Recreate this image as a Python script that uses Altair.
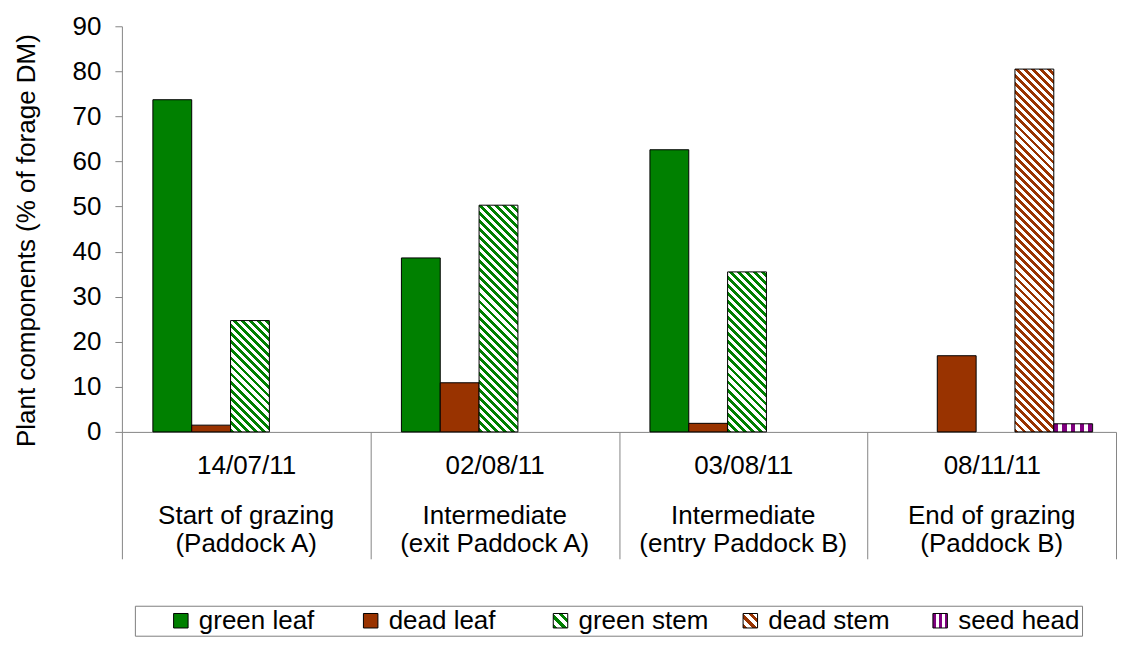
import math
import json
import altair as alt
import pandas as pd

# ---- data ----
dates = ["14/07/11", "02/08/11", "03/08/11", "08/11/11"]
stage = ["Start of grazing", "Intermediate", "Intermediate", "End of grazing"]
paddock = ["(Paddock A)", "(exit Paddock A)", "(entry Paddock B)", "(Paddock B)"]
series = ["green leaf", "dead leaf", "green stem", "dead stem", "seed head"]
green_leaf = [73.7, 38.6, 62.6, 0.0]
dead_leaf = [1.5, 10.9, 1.9, 16.9]
green_stem = [24.7, 50.3, 35.5, 0.0]
dead_stem = [0.0, 0.0, 0.0, 80.5]
seed_head = [0.0, 0.0, 0.0, 1.8]
values = [green_leaf, dead_leaf, green_stem, dead_stem, seed_head]

groups = [f"{d}|{s}|{p}" for d, s, p in zip(dates, stage, paddock)]

GREEN, BROWN, PURPLE = "#008000", "#993300", "#800080"

# ---- layout / style ----
W, H = 995, 406
YMAX = 90
PAD_OUT = 0.7
BAR_W = W / len(groups) / (len(series) + 2 * PAD_OUT)
PERIOD = 5.7  # hatch spacing in px
FONT = "Liberation Sans"


def stripes(color, n, frac, x1, y1, x2, y2):
    stops = []
    k = 0
    while k < n:
        a = k / n
        b = min((k + frac) / n, 1.0)
        c = min((k + 1) / n, 1.0)
        stops += [{"offset": round(a, 5), "color": color}, {"offset": round(b, 5), "color": color},
                  {"offset": round(b, 5), "color": "#ffffff"}, {"offset": round(c, 5), "color": "#ffffff"}]
        k += 1
    return {"gradient": "linear", "x1": x1, "y1": y1, "x2": x2, "y2": y2,
            "stops": stops}


def diag_hatch(color, h, w):
    r = h / w
    s = (1 + r) / (1 + r * r)
    n = (w + h) / math.sqrt(2) / PERIOD
    return stripes(color, n, 0.48, 0, 1, s, 1 - s * r)


def paint(name, v):
    h = v * H / YMAX
    if name == "green leaf":
        return GREEN
    if name == "dead leaf":
        return BROWN
    if name == "green stem":
        return diag_hatch(GREEN, h, BAR_W)
    if name == "dead stem":
        return diag_hatch(BROWN, h, BAR_W)
    return stripes(PURPLE, BAR_W / 8.6, 0.5, 0, 0, 1, 0)


rows = []
for j, s in enumerate(series):
    for i, g in enumerate(groups):
        rows.append({"group": g, "series": s, "value": values[j][i],
                     "paint": paint(s, values[j][i])})
df = pd.DataFrame(rows)

sym = {
    "green leaf": GREEN,
    "dead leaf": BROWN,
    "green stem": stripes(GREEN, 3, 0.45, 0, 1, 1, 0),
    "dead stem": stripes(BROWN, 3, 0.45, 0, 1, 1, 0),
    "seed head": stripes(PURPLE, 2.5, 0.5, 0, 0, 1, 0),
}
expr = "'#008000'"
for k, v in reversed(list(sym.items())):
    expr = f"datum.value === '{k}' ? {json.dumps(v)} : ({expr})"

legend = alt.Legend(
    title=" ", titleOrient="left", titlePadding=31, titleFontSize=1,
    orient="none", legendX=13, legendY=580, direction="horizontal", columns=5,
    gridAlign="all", strokeColor="#7f7f7f", padding=2, symbolType="square",
    symbolSize=210, symbolStrokeWidth=1, symbolStrokeColor="#000000",
    labelFontSize=26, labelFont=FONT, labelColor="#000000", labelOffset=5,
    columnPadding=28, labelLimit=400, symbolOpacity=1,
    symbolFillColor={"expr": expr},
)

xscale = alt.Scale(paddingInner=0, paddingOuter=0)

bars = alt.Chart(df).transform_filter("datum.value > 0").mark_bar(strokeWidth=1).encode(
    x=alt.X("group:N", sort=groups, scale=xscale,
            axis=alt.Axis(title=None, orient="bottom",
                          labelExpr="split(datum.label, '|')[0]", labelAngle=0,
                          tickBand="extent", tickSize=127, labelPadding=-106,
                          labelLimit=0, labelOverlap=False)),
    xOffset=alt.XOffset("series:N", sort=series,
                        scale=alt.Scale(domain=series, paddingOuter=PAD_OUT, paddingInner=0,
                                        align=0.57)),
    y=alt.Y("value:Q", scale=alt.Scale(domain=[0, YMAX], nice=False),
            axis=alt.Axis(title="Plant components (% of forage DM)", values=list(range(0, 91, 10)),
                          tickSize=7, labelPadding=14, titlePadding=33, titleY=214, grid=False)),
    fill=alt.Fill("paint:N", scale=None),
    stroke=alt.Stroke("series:N", scale=alt.Scale(domain=series, range=["#000000"] * 5),
                      legend=legend),
)

captions = alt.Chart(df).mark_point(opacity=0, size=0).encode(
    x=alt.X("group:N", sort=groups, scale=xscale,
            axis=alt.Axis(title=None, orient="bottom", domain=False, ticks=False,
                          labelExpr="slice(split(datum.label, '|'), 1)", labelAngle=0,
                          labelPadding=71, labelLineHeight=28, labelLimit=0,
                          labelOverlap=False)),
)

chart = alt.layer(bars, captions).resolve_axis(x="independent").properties(
    width=W, height=H, padding={"left": 5, "top": 5, "right": 0, "bottom": 0}
).configure_view(stroke=None).configure_axis(
    domainColor="#868686", tickColor="#868686", labelFont=FONT,
    titleFont=FONT, labelFontSize=26, titleFontSize=26,
    labelColor="#000000", titleColor="#000000", titleFontWeight="normal",
)

chart.save("out.html", embed_options={"renderer": "svg", "actions": False})
